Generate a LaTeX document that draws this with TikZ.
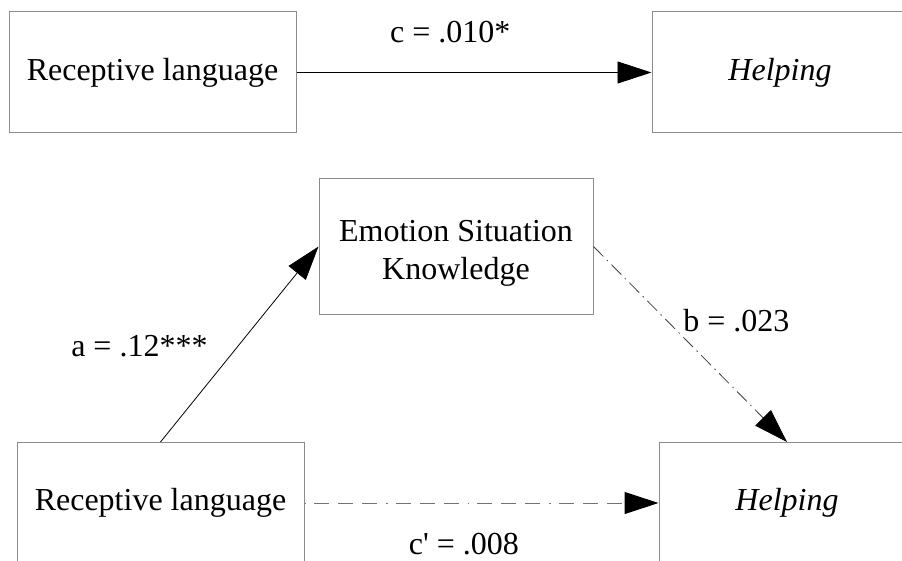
\documentclass[tikz,border=0pt]{standalone}
\usepackage{fontspec}
\setmainfont{Liberation Serif}
\usetikzlibrary{arrows.meta,positioning,calc}

\begin{document}
\begin{tikzpicture}[x=1pt, y=-1pt, >={Triangle[length=34pt,width=22pt,color=black]},
    box/.style={draw=black!45, line width=1pt, minimum height=121pt, inner sep=0pt, align=center, font=\fontsize{32}{38}\selectfont},
    lbl/.style={inner sep=0pt, font=\fontsize{32}{36}\selectfont},
    dashdot/.style={draw=black!75, line width=0.8pt, dash pattern=on 14pt off 5pt on 1.5pt off 5pt},
    longdash/.style={draw=black!55, line width=1pt, dash pattern=on 1.5pt off 8pt on 15pt off 9pt on 15pt off 9pt on 15pt off 9pt}]
  \useasboundingbox (0,0) rectangle (902,561);

  \node[box, minimum width=287pt] (lang1) at (152.5,72.5) {Receptive language};
  \node[box, minimum width=256pt] (help1) at (780,72.5) {\textit{Helping}};
  \node[box, minimum width=274pt, minimum height=135pt] (esk) at (456,246.5) {\rule{0pt}{34pt}Emotion Situation\\Knowledge};
  \node[box, minimum width=287pt] (lang2) at (160.5,503) {Receptive language};
  \node[box, minimum width=256pt] (help2) at (787,503) {\textit{Helping}};

  % total effect
  \draw[->, line width=0.8pt] (lang1) -- node[lbl, pos=.433, yshift=40pt] {c = .010*} (help1);

  % mediation paths
  \draw[->, line width=0.8pt] (lang2.north) -- node[lbl, pos=.49, left=30pt] {a = .12***} (esk.west);
  \draw[->, dashdot] (esk.east) -- node[lbl, pos=.38, right=16pt] {b = .023} (help2.north);
  \draw[->, longdash] (lang2) -- node[lbl, pos=.45, yshift=-41pt, black] {c\textquotesingle\ = .008} (help2);
\end{tikzpicture}
\end{document}
